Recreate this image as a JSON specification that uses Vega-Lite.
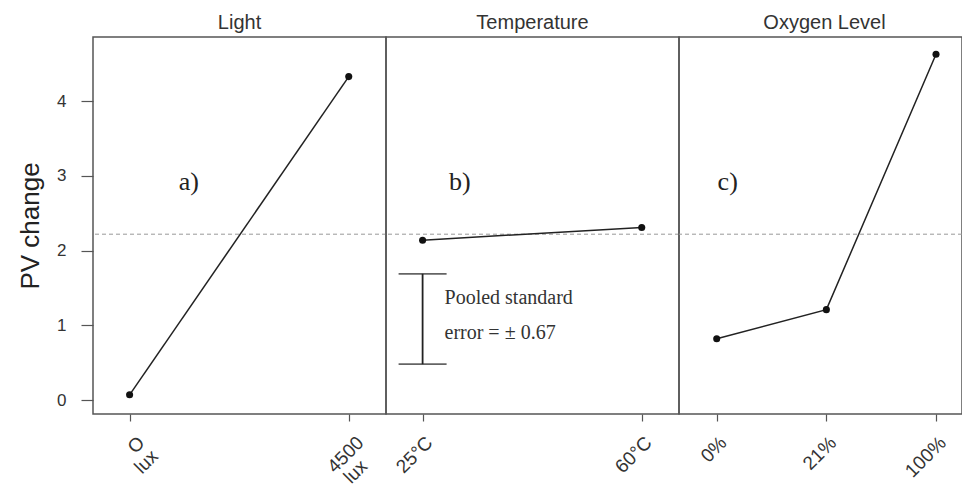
{
  "$schema": "https://vega.github.io/schema/vega-lite/v6.json",
  "background": "white",
  "padding": {"left": 16, "top": 12, "right": 0, "bottom": 0},
  "spacing": 0,
  "bounds": "flush",
  "config": {
    "view": {"stroke": "#555", "strokeWidth": 1.5},
    "font": "Liberation Sans",
    "axis": {
      "domain": false,
      "grid": false,
      "tickColor": "#555",
      "tickWidth": 1.2,
      "labelColor": "#333",
      "labelFont": "Liberation Sans",
      "labelFontSize": 17,
      "titleFont": "Liberation Sans"
    },
    "axisX": {
      "tickSize": 7,
      "labelAngle": -45,
      "labelAlign": "right",
      "labelBaseline": "top",
      "labelPadding": 12,
      "labelFontSize": 19,
      "labelLineHeight": 22
    },
    "title": {"font": "Liberation Sans", "fontSize": 20, "fontWeight": "normal", "color": "#333", "baseline": "alphabetic", "offset": 4}
  },
  "datasets": {
    "effects": [
      {"factor": "Light", "idx": 0, "level": "O lux", "pv": 0.07},
      {"factor": "Light", "idx": 1, "level": "4500 lux", "pv": 4.33},
      {"factor": "Temperature", "idx": 0, "level": "25°C", "pv": 2.14},
      {"factor": "Temperature", "idx": 1, "level": "60°C", "pv": 2.31},
      {"factor": "Oxygen Level", "idx": 0, "level": "0%", "pv": 0.82},
      {"factor": "Oxygen Level", "idx": 1, "level": "21%", "pv": 1.21},
      {"factor": "Oxygen Level", "idx": 2, "level": "100%", "pv": 4.63}
    ],
    "grandMean": [{"mean": 2.22}],
    "tags": [
      {"factor": "Light", "x": 0.27, "y": 2.92, "tag": "a)"},
      {"factor": "Temperature", "x": 0.17, "y": 2.92, "tag": "b)"},
      {"factor": "Oxygen Level", "x": 0.1, "y": 2.92, "tag": "c)"}
    ],
    "pooledNote": [
      {"x": 0.1, "y": 1.37, "note": "Pooled standard"},
      {"x": 0.1, "y": 0.9, "note": "error = ± 0.67"}
    ],
    "pooledBar": [{"x": 0, "lo": 0.48, "hi": 1.69}]
  },
  "resolve": {"scale": {"y": "shared", "x": "independent"}},
  "hconcat": [
    {
      "title": "Light",
      "width": 293,
      "height": 377,
      "layer": [
        {
          "data": {"name": "grandMean"},
          "mark": {"type": "rule", "strokeDash": [4, 3], "color": "#999", "strokeWidth": 1},
          "encoding": {"y": {"field": "mean", "type": "quantitative", "title": "PV change"}}
        },
        {
          "data": {"name": "effects"},
          "transform": [{"filter": "datum.factor == 'Light'"}],
          "mark": {"type": "line", "color": "#222", "strokeWidth": 1.5, "point": {"filled": true, "size": 50, "color": "#111"}},
          "encoding": {
            "x": {
              "field": "idx", "type": "quantitative",
              "scale": {"domain": [-0.167, 1.17], "nice": false, "zero": false},
              "axis": {"values": [0, 1], "title": null, "labelOffset": 5, "labelLineHeight": 19, "labelExpr": "datum.value == 0 ? ['O', 'lux'] : ['4500', 'lux\u2800']"}
            },
            "y": {
              "field": "pv", "type": "quantitative", "title": "PV change",
              "scale": {"domain": [-0.187, 4.86], "nice": false, "zero": false},
              "axis": {"values": [0, 1, 2, 3, 4], "format": "d", "tickSize": 12, "labelPadding": 15, "titleFontSize": 26, "titleFontWeight": "normal", "titleColor": "#222", "titlePadding": 13}
            }
          }
        },
        {
          "data": {"name": "tags"},
          "transform": [{"filter": "datum.factor == 'Light'"}],
          "mark": {"type": "text", "font": "Liberation Serif", "fontSize": 26, "color": "#222", "align": "center", "baseline": "middle"},
          "encoding": {
            "x": {"field": "x", "type": "quantitative"},
            "y": {"field": "y", "type": "quantitative"},
            "text": {"field": "tag"}
          }
        }
      ]
    },
    {
      "title": "Temperature",
      "width": 293,
      "height": 377,
      "layer": [
        {
          "data": {"name": "grandMean"},
          "mark": {"type": "rule", "strokeDash": [4, 3], "color": "#999", "strokeWidth": 1},
          "encoding": {"y": {"field": "mean", "type": "quantitative", "axis": null}}
        },
        {
          "data": {"name": "effects"},
          "transform": [{"filter": "datum.factor == 'Temperature'"}],
          "mark": {"type": "line", "color": "#222", "strokeWidth": 1.5, "point": {"filled": true, "size": 50, "color": "#111"}},
          "encoding": {
            "x": {
              "field": "idx", "type": "quantitative",
              "scale": {"domain": [-0.167, 1.17], "nice": false, "zero": false},
              "axis": {"values": [0, 1], "title": null, "labelExpr": "datum.value == 0 ? '25°C' : '60°C'"}
            },
            "y": {"field": "pv", "type": "quantitative", "axis": null}
          }
        },
        {
          "data": {"name": "pooledBar"},
          "mark": {"type": "rule", "color": "#222", "strokeWidth": 1.8},
          "encoding": {
            "x": {"field": "x", "type": "quantitative"},
            "y": {"field": "lo", "type": "quantitative", "axis": null},
            "y2": {"field": "hi"}
          }
        },
        {
          "data": {"name": "pooledBar"},
          "transform": [{"fold": ["lo", "hi"], "as": ["end", "val"]}],
          "mark": {"type": "tick", "orient": "horizontal", "color": "#222", "size": 48, "thickness": 1.8},
          "encoding": {
            "x": {"field": "x", "type": "quantitative"},
            "y": {"field": "val", "type": "quantitative", "axis": null}
          }
        },
        {
          "data": {"name": "pooledNote"},
          "mark": {"type": "text", "font": "Liberation Serif", "fontSize": 20, "color": "#333", "align": "left", "baseline": "middle"},
          "encoding": {
            "x": {"field": "x", "type": "quantitative"},
            "y": {"field": "y", "type": "quantitative", "axis": null},
            "text": {"field": "note"}
          }
        },
        {
          "data": {"name": "tags"},
          "transform": [{"filter": "datum.factor == 'Temperature'"}],
          "mark": {"type": "text", "font": "Liberation Serif", "fontSize": 26, "color": "#222", "align": "center", "baseline": "middle"},
          "encoding": {
            "x": {"field": "x", "type": "quantitative"},
            "y": {"field": "y", "type": "quantitative", "axis": null},
            "text": {"field": "tag"}
          }
        }
      ]
    },
    {
      "title": {"text": "Oxygen Level", "dx": 4},
      "width": 283,
      "height": 377,
      "layer": [
        {
          "data": {"name": "grandMean"},
          "mark": {"type": "rule", "strokeDash": [4, 3], "color": "#999", "strokeWidth": 1},
          "encoding": {"y": {"field": "mean", "type": "quantitative", "axis": null}}
        },
        {
          "data": {"name": "effects"},
          "transform": [{"filter": "datum.factor == 'Oxygen Level'"}],
          "mark": {"type": "line", "color": "#222", "strokeWidth": 1.5, "point": {"filled": true, "size": 50, "color": "#111"}},
          "encoding": {
            "x": {
              "field": "idx", "type": "quantitative",
              "scale": {"domain": [-0.344, 2.237], "nice": false, "zero": false},
              "axis": {"values": [0, 1, 2], "title": null, "labelExpr": "datum.value == 0 ? '0%' : datum.value == 1 ? '21%' : '100%'"}
            },
            "y": {"field": "pv", "type": "quantitative", "axis": null}
          }
        },
        {
          "data": {"name": "tags"},
          "transform": [{"filter": "datum.factor == 'Oxygen Level'"}],
          "mark": {"type": "text", "font": "Liberation Serif", "fontSize": 26, "color": "#222", "align": "center", "baseline": "middle"},
          "encoding": {
            "x": {"field": "x", "type": "quantitative"},
            "y": {"field": "y", "type": "quantitative", "axis": null},
            "text": {"field": "tag"}
          }
        }
      ]
    }
  ]
}
